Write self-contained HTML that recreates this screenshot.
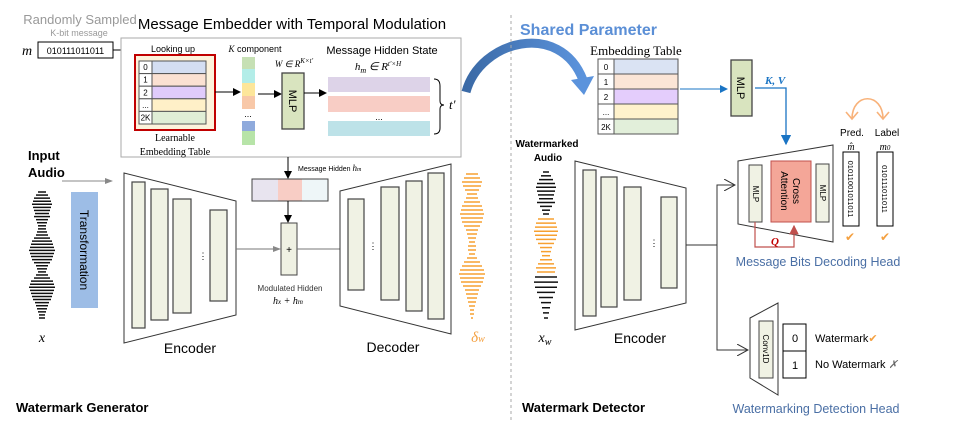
<!DOCTYPE html>
<html><head><meta charset="utf-8"><style>
body{margin:0;background:#fff}
svg{display:block;font-family:"Liberation Sans",sans-serif}
.ser{font-family:"Liberation Serif",serif}
</style></head><body>
<svg id="s" width="974" height="436" viewBox="0 0 974 436" xmlns="http://www.w3.org/2000/svg">
<defs>
<marker id="ab" markerWidth="8" markerHeight="8" refX="7" refY="4" orient="auto"><path d="M0,0 L8,4 L0,8z" fill="#000"/></marker>
<marker id="ag" markerWidth="8" markerHeight="8" refX="7" refY="4" orient="auto"><path d="M0,1 L8,4 L0,7z" fill="#888"/></marker>
<marker id="abl" markerWidth="8" markerHeight="8" refX="7" refY="4" orient="auto"><path d="M0,0 L8,4 L0,8z" fill="#1a74c4"/></marker>
<marker id="ar" markerWidth="8" markerHeight="8" refX="7" refY="4" orient="auto"><path d="M0,0 L8,4 L0,8z" fill="#c0504d"/></marker>
<marker id="aopen" markerWidth="12" markerHeight="12" refX="11" refY="6" orient="auto"><path d="M0,0 L11,6 L0,12" fill="none" stroke="#333" stroke-width="1"/></marker>
<linearGradient id="gb" x1="0" x2="1"><stop offset="0" stop-color="#3b6aa6"/><stop offset="1" stop-color="#5b93dc"/></linearGradient>
</defs>

<text x="80" y="24" font-size="13" fill="#999" text-anchor="middle">Randomly Sampled</text>
<text x="79" y="36" font-size="9" fill="#999" text-anchor="middle">K-bit message</text>
<text x="22" y="55" font-size="14" font-style="italic" class="ser">m</text>
<rect x="38" y="42" width="75" height="16" fill="#fff" stroke="#000"/>
<text x="75.5" y="54" font-size="9" text-anchor="middle">010111011011</text>
<line x1="113" y1="50" x2="134" y2="50" stroke="#000" marker-end="url(#ab)"/>
<text x="292" y="29" font-size="15" text-anchor="middle">Message Embedder with Temporal Modulation</text>
<rect x="121" y="38" width="340" height="119" fill="#fff" stroke="#aaa"/>
<text x="173" y="52" font-size="9" text-anchor="middle">Looking up</text>
<rect x="135" y="55" width="80" height="75" fill="#fdf3dc" stroke="#c00000" stroke-width="2"/>
<g id="t1"></g>
<text x="175" y="141" font-size="10" text-anchor="middle" class="ser">Learnable</text>
<text x="175" y="155" font-size="10" text-anchor="middle" class="ser">Embedding Table</text>
<line x1="215" y1="92" x2="240" y2="92" stroke="#000" marker-end="url(#ab)"/>
<text x="255" y="52" font-size="9" text-anchor="middle"><tspan font-style="italic" class="ser">K</tspan> component</text>
<g>
<rect x="242" y="57" width="13" height="12" fill="#c6e0b4"/><rect x="242" y="69" width="13" height="14" fill="#b3ede8"/><rect x="242" y="83" width="13" height="13" fill="#fde69a"/><rect x="242" y="96" width="13" height="13" fill="#f8c8a8"/>
<text x="248" y="117" font-size="9" text-anchor="middle">...</text>
<rect x="242" y="121" width="13" height="10" fill="#8faadc"/><rect x="242" y="131" width="13" height="14" fill="#b7e4a8"/></g>
<line x1="258" y1="94" x2="281" y2="94" stroke="#000" marker-end="url(#ab)"/>
<text x="294" y="67" font-size="9" text-anchor="middle" class="ser" font-style="italic">W ∈ R<tspan font-size="7" dy="-4">K×t'</tspan></text>
<rect x="282" y="73" width="22" height="56" fill="#d9e4bf" stroke="#444" stroke-width="1.3"/>
<text transform="translate(289,101) rotate(90)" font-size="11" text-anchor="middle">MLP</text>
<line x1="304" y1="93" x2="326" y2="93" stroke="#000" marker-end="url(#ab)"/>
<text x="382" y="54" font-size="11" text-anchor="middle">Message Hidden State</text>
<text x="378" y="70" font-size="11" text-anchor="middle" class="ser" font-style="italic">h<tspan font-size="8" dy="3">m</tspan><tspan dy="-3"> ∈ R</tspan><tspan font-size="7" dy="-4">t'×H</tspan></text>
<rect x="328" y="77" width="102" height="15" fill="#ddd3e8"/>
<rect x="328" y="96" width="102" height="16" fill="#f8cdc5"/>
<text x="379" y="120" font-size="9" text-anchor="middle">...</text>
<rect x="328" y="121" width="102" height="15" fill="#bde2e8"/>
<path d="M434,79 Q440,79 440,86 L440,101 Q440,105 444,105 Q440,105 440,109 L440,128 Q440,134 434,134" fill="none" stroke="#000"/>
<text x="449" y="109" font-size="13" font-style="italic" class="ser">t'</text>

<text x="28" y="160" font-size="13" font-weight="bold">Input</text>
<text x="28" y="177" font-size="13" font-weight="bold">Audio</text>
<line x1="62" y1="181" x2="112" y2="181" stroke="#888" marker-end="url(#ag)"/>
<g id="w1"></g>
<text x="42" y="342" font-size="14" font-style="italic" class="ser" text-anchor="middle">x</text>
<rect x="71" y="192" width="27" height="116" fill="#9dbde6"/>
<text transform="translate(80,250) rotate(90)" font-size="12" text-anchor="middle">Transformation</text>

<path d="M124,173 L236,201 L236,315 L124,343z" fill="#fff" stroke="#333"/>
<g fill="#f0f2e4" stroke="#444" stroke-width="1.2">
<rect x="132" y="182" width="13" height="146"/><rect x="151" y="189" width="17" height="131"/><rect x="173" y="199" width="18" height="114"/><rect x="210" y="210" width="17" height="91"/></g>
<text x="203" y="259" font-size="9" text-anchor="middle">⋮</text>
<text x="190" y="353" font-size="14" text-anchor="middle">Encoder</text>

<line x1="288" y1="157" x2="288" y2="178" stroke="#000" marker-end="url(#ab)"/>
<text x="298" y="171" font-size="7">Message Hidden <tspan font-style="italic" class="ser" font-size="9">h<tspan font-size="6">m</tspan></tspan></text>
<rect x="252" y="179" width="26" height="22" fill="#e8e4ef"/><rect x="278" y="179" width="24" height="22" fill="#f8cdc5"/><rect x="302" y="179" width="26" height="22" fill="#eef6f8"/>
<rect x="252" y="179" width="76" height="22" fill="none" stroke="#444"/>
<line x1="288" y1="201" x2="288" y2="222" stroke="#000" marker-end="url(#ab)"/>
<rect x="281" y="223" width="16" height="52" fill="#eff1e3" stroke="#444"/>
<text x="289" y="253" font-size="10" text-anchor="middle">+</text>
<line x1="236" y1="249" x2="280" y2="249" stroke="#777" marker-end="url(#ag)"/>
<line x1="297" y1="249" x2="340" y2="249" stroke="#777"/>
<text x="290" y="291" font-size="8" text-anchor="middle" fill="#333">Modulated Hidden</text>
<text x="288" y="304" font-size="10" text-anchor="middle" font-style="italic" class="ser">h<tspan font-size="7">x</tspan> + h<tspan font-size="7">m</tspan></text>

<path d="M340,191 L451,164 L451,334 L340,306z" fill="#fff" stroke="#333"/>
<g fill="#f0f2e4" stroke="#444" stroke-width="1.2">
<rect x="348" y="199" width="16" height="91"/><rect x="381" y="187" width="18" height="113"/><rect x="406" y="181" width="16" height="130"/><rect x="428" y="173" width="16" height="146"/></g>
<text x="373" y="249" font-size="9" text-anchor="middle">⋮</text>
<text x="393" y="352" font-size="14" text-anchor="middle">Decoder</text>
<g id="w2"></g>
<text x="478" y="342" font-size="15" font-style="italic" class="ser" fill="#f4a040" text-anchor="middle">δ<tspan font-size="10">w</tspan></text>
<text x="16" y="412" font-size="13" font-weight="bold">Watermark  Generator</text>

<path d="M466,92 C480,40 560,20 583,80" fill="none" stroke="url(#gb)" stroke-width="9"/>
<path d="M571,80 L594,76 L584,95z" fill="#5b93dc"/>
<line x1="511" y1="15" x2="511" y2="420" stroke="#aaa" stroke-dasharray="3,3"/>

<text x="520" y="35" font-size="16" font-weight="bold" fill="#5b8fd6">Shared Parameter</text>
<text x="636" y="55" font-size="13" text-anchor="middle" class="ser">Embedding Table</text>
<g id="t2"></g>
<line x1="680" y1="89" x2="727" y2="89" stroke="#1a74c4" marker-end="url(#abl)"/>
<rect x="731" y="60" width="21" height="56" fill="#d9e4bf" stroke="#444" stroke-width="1.3"/>
<text transform="translate(737,88) rotate(90)" font-size="11" text-anchor="middle">MLP</text>
<text x="765" y="84" font-size="11" font-weight="bold" font-style="italic" fill="#1a74c4" class="ser">K, V</text>
<path d="M755,88 L786,88 L786,144" fill="none" stroke="#1a74c4" stroke-width="1.3" marker-end="url(#abl)"/>

<text x="547" y="147" font-size="10" font-weight="bold" text-anchor="middle">Watermarked</text>
<text x="548" y="161" font-size="10" font-weight="bold" text-anchor="middle">Audio</text>
<g id="w3"></g>
<text x="545" y="342" font-size="14" font-style="italic" class="ser" text-anchor="middle">x<tspan font-size="10" dy="3">w</tspan></text>

<path d="M575,161 L686,188 L686,303 L575,330z" fill="#fff" stroke="#333"/>
<g fill="#f0f2e4" stroke="#444" stroke-width="1.2">
<rect x="583" y="170" width="13" height="146"/><rect x="601" y="177" width="16" height="130"/><rect x="624" y="187" width="17" height="113"/><rect x="661" y="197" width="16" height="91"/></g>
<text x="654" y="246" font-size="9" text-anchor="middle">⋮</text>
<text x="640" y="343" font-size="14" text-anchor="middle">Encoder</text>
<path d="M686,245 L717,245 L717,185 L735,185" fill="none" stroke="#333" marker-end="url(#aopen)"/>
<path d="M717,245 L717,350 L748,350" fill="none" stroke="#333" marker-end="url(#aopen)"/>

<path d="M738,161 L833,145 L833,242 L738,224z" fill="#fff" stroke="#333"/>
<rect x="749" y="165" width="13" height="57" fill="#f0f2e4" stroke="#444"/>
<text transform="translate(753,194) rotate(90)" font-size="8" text-anchor="middle">MLP</text>
<rect x="771" y="161" width="40" height="61" fill="#f4a698" stroke="#c0504d"/>
<text transform="translate(793,191) rotate(90)" font-size="10" text-anchor="middle">Cross</text>
<text transform="translate(781,191) rotate(90)" font-size="10" text-anchor="middle">Attention</text>
<rect x="816" y="164" width="13" height="58" fill="#f0f2e4" stroke="#444"/>
<text transform="translate(820,193) rotate(90)" font-size="8" text-anchor="middle">MLP</text>
<path d="M755,222 L755,247 L794,247 L794,226" fill="none" stroke="#c0504d" stroke-width="1.2" marker-end="url(#ar)"/>
<text x="771" y="245" font-size="11" font-weight="bold" font-style="italic" fill="#c00000" class="ser">Q</text>

<g fill="none" stroke="#f8b27a" stroke-width="1.6">
<path d="M852,119 C852,92 883,92 883,119"/>
<path d="M846,112 L852,119 L858,112"/><path d="M877,112 L883,119 L889,112"/></g>
<text x="852" y="136" font-size="10" text-anchor="middle">Pred.</text>
<text x="887" y="136" font-size="10" text-anchor="middle">Label</text>
<text x="851" y="150" font-size="10" text-anchor="middle" font-style="italic" class="ser">m̂</text>
<text x="885" y="150" font-size="10" text-anchor="middle" font-style="italic" class="ser">m<tspan font-size="7">0</tspan></text>
<rect x="843" y="152" width="16" height="74" fill="#fff" stroke="#000"/>
<text transform="translate(848,189) rotate(90)" font-size="7.5" text-anchor="middle">01011001011011</text>
<rect x="877" y="152" width="16" height="74" fill="#fff" stroke="#000"/>
<text transform="translate(882,189) rotate(90)" font-size="7.5" text-anchor="middle">010111011011</text>
<text x="850" y="241" font-size="12" fill="#f4a040" text-anchor="middle">✔</text>
<text x="885" y="241" font-size="12" fill="#f4a040" text-anchor="middle">✔</text>
<text x="818" y="266" font-size="12.5" fill="#4a6fa5" text-anchor="middle">Message Bits Decoding Head</text>

<path d="M750,318 L778,303 L778,395 L750,378z" fill="#fff" stroke="#333"/>
<rect x="759" y="321" width="14" height="57" fill="#f0f2e4" stroke="#444"/>
<text transform="translate(763,349) rotate(90)" font-size="8" text-anchor="middle">Conv1D</text>
<rect x="783" y="324" width="23" height="54" fill="#fff" stroke="#000"/>
<line x1="783" y1="351" x2="806" y2="351" stroke="#000"/>
<text x="795" y="342" font-size="11" text-anchor="middle">0</text>
<text x="795" y="369" font-size="11" text-anchor="middle">1</text>
<text x="815" y="342" font-size="11">Watermark<tspan fill="#f4a040">✔</tspan></text>
<text x="815" y="368" font-size="11">No Watermark <tspan fill="#666" font-style="italic">✗</tspan></text>
<text x="816" y="413" font-size="12.5" fill="#4a6fa5" text-anchor="middle">Watermarking Detection Head</text>
<text x="522" y="412" font-size="13" font-weight="bold">Watermark  Detector</text>
</svg>
<script>
var NS='http://www.w3.org/2000/svg';
function mk(p,t,a){var e=document.createElementNS(NS,t);for(var k in a)e.setAttribute(k,a[k]);p.appendChild(e);return e;}
var rowColors=['#dae3f3','#fbe5d6','#e4cdfc','#fff2cc','#e2efda'];
var rowLabels=['0','1','2','...','2K'];
var embA=['#d4def2','#fbe1d2','#e0cbfb','#fff0c8','#e0eed6'];
function table(g,x,y,w,h,ic,cols,fs){
 for(var i=0;i<5;i++){
  var r=mk(g,'rect',{x:x,y:y+i*h,width:ic,height:h,fill:'#fff',stroke:'#555'});
  
  
  mk(g,'rect',{x:x+ic,y:y+i*h,width:w-ic,height:h,fill:cols[i],stroke:'#555'});
  var t=mk(g,'text',{x:x+ic/2,y:y+i*h+h*0.72,'font-size':fs,'text-anchor':'middle'});t.textContent=rowLabels[i];
 }
}
table(document.getElementById('t1'),139,61,67,12.6,13,embA,8);
table(document.getElementById('t2'),598,59,80,15,16,rowColors,8);
var wInput=[4,6,8,9,10,9,8,7,8,6,5,4,4,5,6,8,10,11,12,13,12,11,10,8,6,5,4,6,8,11,12,13,12,11,10,9,7,6,5,4,3,3];
var wOut=[6,8,10,9,7,5,6,8,10,11,12,11,10,8,6,5,4,3,4,4,3,5,8,10,12,13,12,11,9,7,6,5,4,3,2,2,1];
var wTop=[3,5,7,9,10,9,8,7,9,6,4,3];
var wMid=[8,10,11,12,11,10,8,6,5,4,6,8,10,9];
var wBot=[11,12,11,9,7,5,4,3,2];
function wave(id,cx,y0,y1,arr,col){
 var g=document.getElementById(id),n=arr.length,dy=(y1-y0)/(n-1);
 for(var i=0;i<n;i++){
  var l=mk(g,'line',{x1:cx-arr[i],x2:cx+arr[i],y1:y0+i*dy,y2:y0+i*dy,stroke:col,'stroke-width':1.5});
  
  
 }
}
wave('w1',42,192,318,wInput,'#111');
wave('w2',472,174,318,wOut,'#f7a030');
wave('w3',546,172,214,wTop,'#111');
wave('w3',546,219,272,wMid,'#f7a030');
wave('w3',546,277,318,wBot,'#111');
</script>
</body></html>
